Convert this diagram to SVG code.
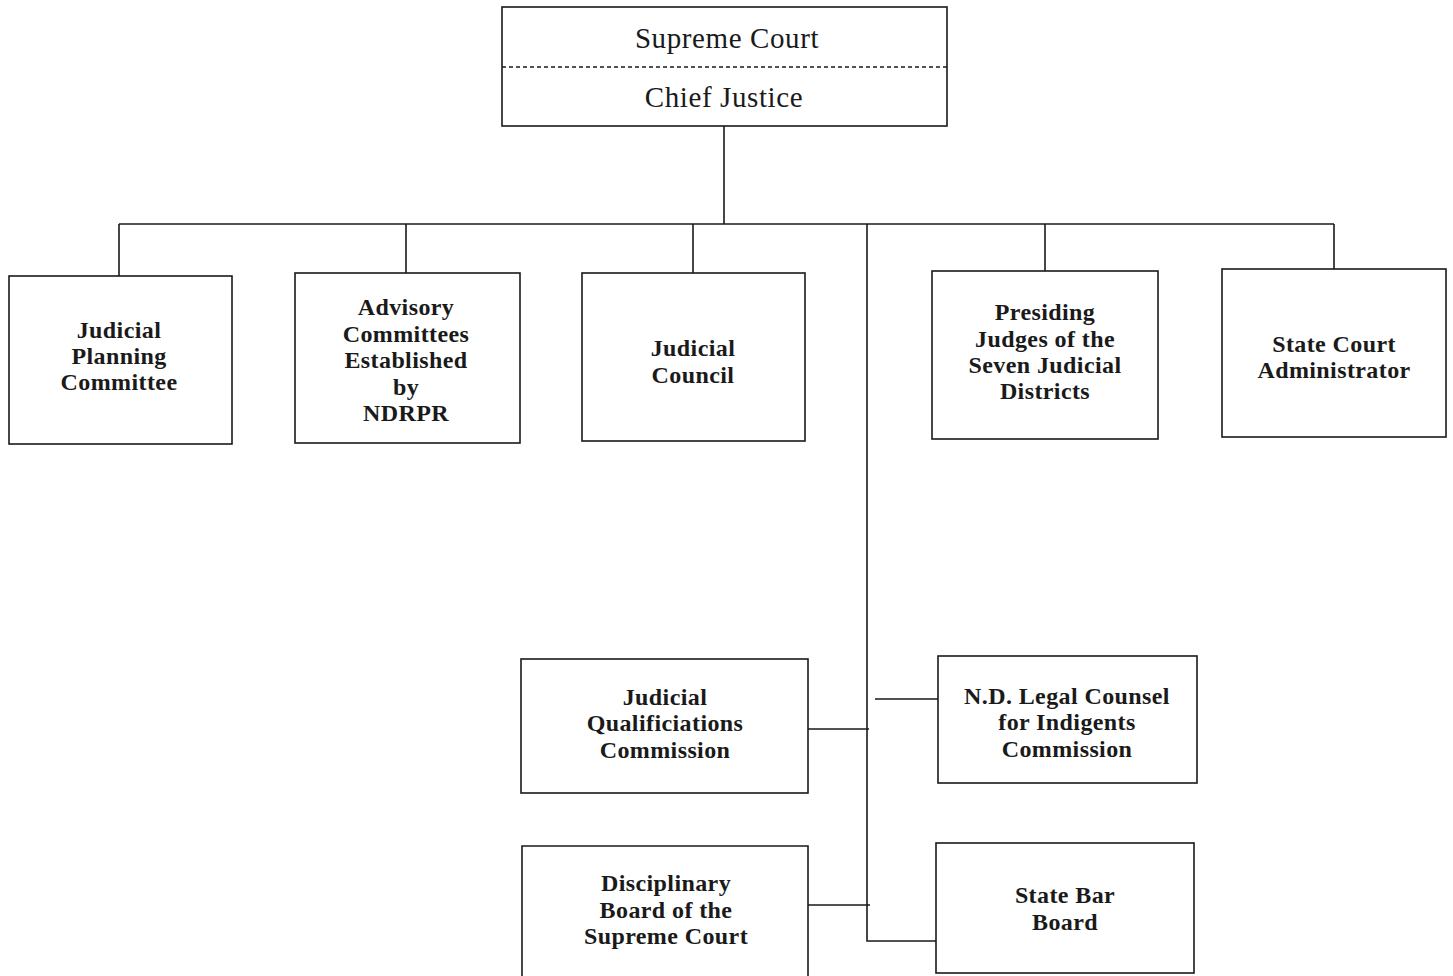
<svg xmlns="http://www.w3.org/2000/svg" width="1453" height="976" viewBox="0 0 1453 976">
<style>
.box{fill:none;stroke:#1a1a1a;stroke-width:1.6}
.ln{fill:none;stroke:#1a1a1a;stroke-width:1.6}
.t{font-family:"Liberation Serif","DejaVu Serif",serif;font-weight:bold;font-size:24px;letter-spacing:0.4px;fill:#1a1a1a;text-anchor:middle}
.tr{font-family:"Liberation Serif","DejaVu Serif",serif;font-size:29px;letter-spacing:0.6px;fill:#1a1a1a;text-anchor:middle}
</style>
<rect width="1453" height="976" fill="#fff"/>
<g id="connectors">
<path class="ln" d="M724 126V224M119 224H1334M119 224V276M406 224V273M693 224V273M1045 224V271M1334 224V269"/>
<path class="ln" d="M867 224V941H936"/>
<path class="ln" d="M808 729H869M875 699H938M808 905H870"/>
</g>
<g id="supreme-court">
<rect class="box" x="502" y="7" width="445" height="119"/>
<line x1="502" y1="67" x2="947" y2="67" stroke="#1a1a1a" stroke-width="1.4" stroke-dasharray="4,3"/>
<text class="tr" x="727" y="48">Supreme Court</text>
<text class="tr" x="724" y="107">Chief Justice</text>
</g>
<g id="judicial-planning">
<rect class="box" x="9" y="276" width="223" height="168"/>
<text class="t" x="119" y="338">Judicial</text>
<text class="t" x="119" y="364">Planning</text>
<text class="t" x="119" y="390">Committee</text>
</g>
<g id="advisory">
<rect class="box" x="295" y="273" width="225" height="170"/>
<text class="t" x="406" y="315">Advisory</text>
<text class="t" x="406" y="342">Committees</text>
<text class="t" x="406" y="368">Established</text>
<text class="t" x="406" y="395">by</text>
<text class="t" x="406" y="421">NDRPR</text>
</g>
<g id="judicial-council">
<rect class="box" x="582" y="273" width="223" height="168"/>
<text class="t" x="693" y="356">Judicial</text>
<text class="t" x="693" y="383">Council</text>
</g>
<g id="presiding-judges">
<rect class="box" x="932" y="271" width="226" height="168"/>
<text class="t" x="1045" y="320">Presiding</text>
<text class="t" x="1045" y="347">Judges of the</text>
<text class="t" x="1045" y="373">Seven Judicial</text>
<text class="t" x="1045" y="399">Districts</text>
</g>
<g id="state-court-admin">
<rect class="box" x="1222" y="269" width="224" height="168"/>
<text class="t" x="1334" y="352">State Court</text>
<text class="t" x="1334" y="378">Administrator</text>
</g>
<g id="judicial-qualifications">
<rect class="box" x="521" y="659" width="287" height="134"/>
<text class="t" x="665" y="705">Judicial</text>
<text class="t" x="665" y="731">Qualificiations</text>
<text class="t" x="665" y="758">Commission</text>
</g>
<g id="legal-counsel">
<rect class="box" x="938" y="656" width="259" height="127"/>
<text class="t" x="1067" y="704">N.D. Legal Counsel</text>
<text class="t" x="1067" y="730">for Indigents</text>
<text class="t" x="1067" y="757">Commission</text>
</g>
<g id="disciplinary-board">
<path class="box" d="M522 980V846H808V980"/>
<text class="t" x="666" y="891">Disciplinary</text>
<text class="t" x="666" y="918">Board of the</text>
<text class="t" x="666" y="944">Supreme Court</text>
</g>
<g id="state-bar-board">
<rect class="box" x="936" y="843" width="258" height="130"/>
<text class="t" x="1065" y="903">State Bar</text>
<text class="t" x="1065" y="930">Board</text>
</g>
</svg>
